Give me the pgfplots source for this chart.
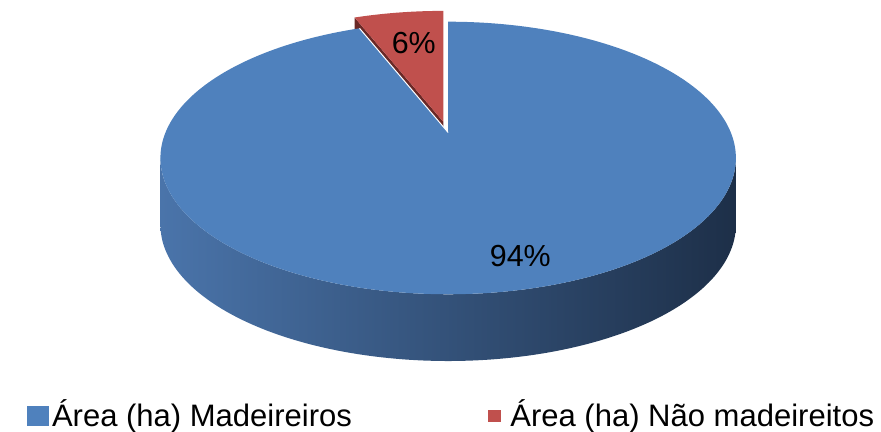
\documentclass[border=0pt]{standalone}
\usepackage{pgfplots}
\pgfplotsset{compat=1.18}
\usepackage{pgfplotstable}
\usepackage{fontspec}
\setmainfont{Liberation Sans}
\definecolor{pieblue}{HTML}{4F81BD}
\definecolor{piered}{HTML}{C0504D}
\definecolor{redwall}{HTML}{6A2826}
\definecolor{sideL}{HTML}{4A74AA}
\definecolor{sideM}{HTML}{30527F}
\definecolor{sideR}{HTML}{1D2F48}

\pgfplotstableread{
label pct
Madeireiros 94
NaoMadeireiros 6
}\piedata

\begin{document}
\pgfplotstablegetelem{1}{pct}\of\piedata
\let\pctB\pgfplotsretval
\pgfmathsetmacro\angB{90+3.6*\pctB}
\pgfmathsetmacro\Bx{440+288*cos(\angB)/(1+0.187*sin(\angB))}
\pgfmathsetmacro\By{305+134*sin(\angB)/(1+0.187*sin(\angB))}
\pgfmathsetmacro\Ex{\Bx-5}
\pgfmathsetmacro\Ey{\By+11}
\pgfmathsetmacro\EyL{\Ey-68}
\begin{tikzpicture}
\begin{axis}[
  x=1bp, y=1bp,
  xmin=0, xmax=881, ymin=0, ymax=440,
  hide axis, clip=false,
  declare function={
    pex(\t)=440+288*cos(\t)/(1+0.187*sin(\t));
    pey(\t)=305+134*sin(\t)/(1+0.187*sin(\t));
    st(\s)=(\s<=1)*(190.8+158.4*\s)+(\s>1)*(349.2-158.4*(\s-1));
    sd(\s)=(\s>1)*68;
  },
  legend columns=2,
  legend cell align=left,
  legend style={at={(axis cs:11,-1)}, anchor=south west, draw=none, fill=none,
    inner sep=0pt, outer sep=0pt, column sep=0pt, row sep=0pt,
    font=\fontsize{31.6bp}{38bp}\selectfont,
    nodes={inner sep=0pt, outer sep=0pt, text height=28.5bp, text depth=6.5bp}},
]
\coordinate (BBL) at (axis cs:0,0);
\coordinate (BTR) at (axis cs:881,440);
% red slice (exploded): wall then top
\addplot[forget plot, fill=redwall, draw=none] coordinates {(435,316) (\Ex,\Ey) (\Ex,\EyL) (435,248)} -- cycle;
\addplot[forget plot, fill=piered, draw=none, domain=90:\angB, samples=40, variable=\t]
  ({pex(\t)-5},{pey(\t)+11}) -- (axis cs:435,316) -- cycle;
% blue side
\addplot[forget plot, draw=none, left color=sideL, middle color=sideM, right color=sideR,
  domain=0:2, samples=321, variable=\s]
  ({pex(st(\s))},{pey(st(\s))-sd(\s)}) -- cycle;
% blue top
\addplot[forget plot, fill=pieblue, draw=none, domain=\angB:450, samples=300, variable=\t]
  ({pex(\t)},{pey(\t)}) -- (axis cs:440,305) -- cycle;
\addplot[forget plot, white, line width=1bp] coordinates {(440,305) (\Bx,\By)};
% labels
\node[anchor=base, font=\fontsize{31bp}{37bp}\selectfont] at (axis cs:405,385) {6\%};
\node[anchor=base, font=\fontsize{31bp}{37bp}\selectfont] at (axis cs:513.5,168) {94\%};
% legend
\addlegendimage{legend image code/.code={\fill[pieblue] (0bp,-9.5bp) rectangle (21bp,9.5bp); \path (25bp,0bp);}}
\addlegendentry{Área (ha) Madeireiros}
\addlegendimage{legend image code/.code={\path (-139bp,0bp); \fill[piered] (0bp,-6bp) rectangle (12bp,6bp); \path (22bp,0bp);}}
\addlegendentry{Área (ha) Não madeireitos}
\end{axis}
\pgfresetboundingbox
\useasboundingbox (BBL) rectangle (BTR);
\end{tikzpicture}
\end{document}
